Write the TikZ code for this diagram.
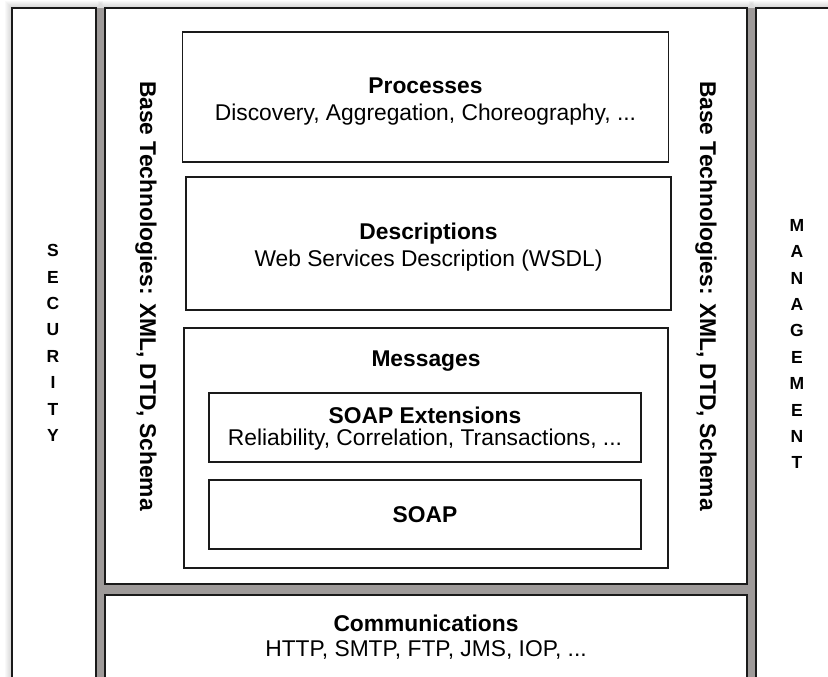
\documentclass[tikz,border=0pt]{standalone}
\usepackage{fontspec}
\setmainfont{Liberation Sans}
\definecolor{edge}{HTML}{1A1A1A}
\definecolor{gapgray}{HTML}{9E9A99}
\begin{document}
\begin{tikzpicture}[x=1pt,y=-1pt,
  outerbox/.style={draw=edge,line width=1.6pt,fill=white},
  innerbox/.style={draw=edge,line width=1.5pt,fill=white},
  boldlbl/.style={font=\fontsize{22.8}{26}\selectfont\bfseries,anchor=base,inner sep=0pt},
  plainlbl/.style={font=\fontsize{22.8}{26}\selectfont,anchor=base,inner sep=0pt},
  vertlbl/.style={font=\fontsize{22.8}{26}\selectfont\bfseries,rotate=-90,inner sep=0pt},
  stacklbl/.style={font=\fontsize{17.5}{26.4}\selectfont\bfseries,align=center,inner sep=0pt}]
\useasboundingbox (0,0) rectangle (828,677);
\clip (0,0) rectangle (828,677);
% faint outer glow
\foreach \i in {1,...,7}{
  \fill[black,opacity=0.025] (12-\i,8-\i) rectangle (96+\i,700);
  \fill[black,opacity=0.025] (105-\i,8-\i) rectangle (747+\i,584+\i);
  \fill[black,opacity=0.025] (756-\i,8-\i) rectangle (840,700);
}
% grey gaps
\fill[gapgray] (96,8) rectangle (105,700);
\fill[gapgray] (747,8) rectangle (756,700);
\fill[gapgray] (105,584) rectangle (747,595);
% outer boxes
\draw[outerbox] (12,8) rectangle (96,700);
\node (sec) at (54,345) {};
\draw[outerbox] (105,8) rectangle (747,584);
\node (main) at (426,296) {};
\draw[outerbox] (756,8) rectangle (840,700);
\node (mgt) at (797,345) {};
\draw[outerbox] (105,595) rectangle (747,700);
\node (comm) at (426,640) {};
% inner boxes
\node[innerbox,minimum width=486pt,minimum height=130pt] (proc) at (425.5,97) {};
\node[innerbox,minimum width=485pt,minimum height=133pt] (desc) at (428.5,243.5) {};
\node[innerbox,minimum width=484pt,minimum height=240pt] (msg) at (426,448) {};
\node[innerbox,minimum width=432pt,minimum height=69pt] (soapx) at (425,427.5) {};
\node[innerbox,minimum width=432pt,minimum height=69pt] (soap) at (425,514.5) {};
% texts
\node[boldlbl] (procT) at (425.5,93) {Processes};
\node[plainlbl] (procS) at (425.5,121) {Discovery, Aggregation, Choreography, ...};
\node[boldlbl] (descT) at (428.5,239) {Descriptions};
\node[plainlbl] (descS) at (428.5,266) {Web Services Description (WSDL)};
\node[boldlbl] (msgT) at (426,366) {Messages};
\node[boldlbl] (soapxT) at (425,423) {SOAP Extensions};
\node[plainlbl] (soapxS) at (425,445) {Reliability, Correlation, Transactions, ...};
\node[boldlbl] (soapT) at (425,522) {SOAP};
\node[boldlbl] (commT) at (426,631) {Communications};
\node[plainlbl] (commS) at (426,656) {HTTP, SMTP, FTP, JMS, IOP, ...};
\node[vertlbl] (baseL) at (146,296) {Base Technologies: XML, DTD, Schema};
\node[vertlbl] (baseR) at (706,296) {Base Technologies: XML, DTD, Schema};
\node[stacklbl] (secT) at (53,343) {S\\E\\C\\U\\R\\I\\T\\Y};
\node[stacklbl] (mgtT) at (797,344) {M\\A\\N\\A\\G\\E\\M\\E\\N\\T};
\end{tikzpicture}
\end{document}
